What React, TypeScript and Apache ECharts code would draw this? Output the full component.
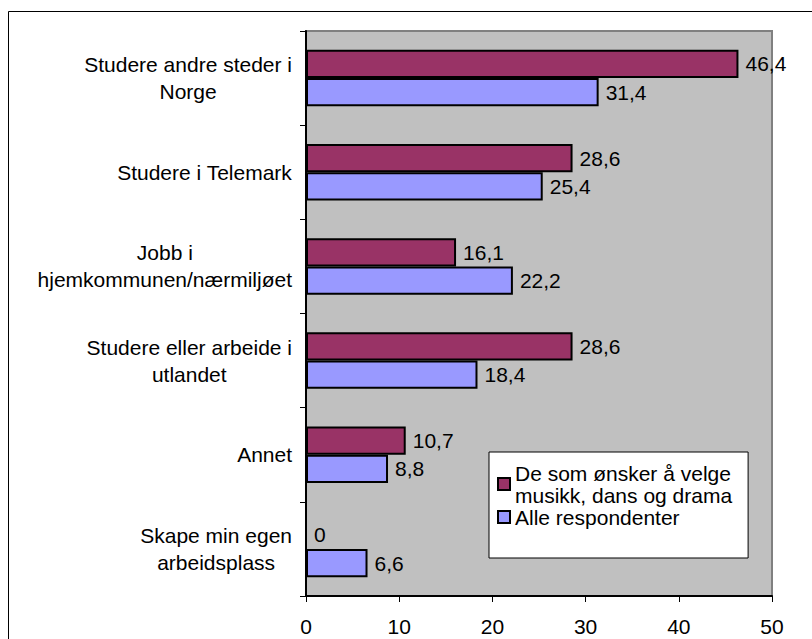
import React, { useEffect, useRef } from 'react';
import * as echarts from 'echarts';

const categories = [
  'Studere andre steder i\nNorge',
  'Studere i Telemark',
  'Jobb i\nhjemkommunen/nærmiljøet',
  'Studere eller arbeide i\nutlandet',
  'Annet',
  'Skape min egen\narbeidsplass',
];
const seriesNames = ['De som ønsker å velge musikk, dans og drama', 'Alle respondenter'];
const legendLabels = ['De som ønsker å velge\nmusikk, dans og drama', 'Alle respondenter'];
const musikkValues = [46.4, 28.6, 16.1, 28.6, 10.7, 0];
const alleValues = [31.4, 25.4, 22.2, 18.4, 8.8, 6.6];
const seriesColors = ['#993366', '#9999FF'];
const xMin = 0;
const xMax = 50;
const xInterval = 10;

const FONT = '"Liberation Sans", Arial, sans-serif';
const FS = 21;

export default function App() {
  const ref = useRef<HTMLDivElement>(null);
  useEffect(() => {
    document.body.style.margin = '0';
    if (!ref.current) return;
    const chart = echarts.init(ref.current, null, { renderer: 'svg' });
    const fmtVal = (p: any) => String(p.value).replace('.', ',');
    const barSeries = [musikkValues, alleValues].map((vals, i) => ({
      name: seriesNames[i],
      type: 'bar',
      data: vals,
      barGap: '0%',
      barCategoryGap: '40%',
      itemStyle: { color: seriesColors[i], borderColor: '#000', borderWidth: 2 },
      label: {
        show: true,
        position: 'right',
        distance: 7,
        color: '#000',
        fontSize: FS,
        fontFamily: FONT,
        formatter: fmtVal,
      },
    }));
    chart.setOption({
      animation: false,
      backgroundColor: '#fff',
      textStyle: { fontFamily: FONT },
      grid: {
        left: 306,
        top: 31,
        right: 40,
        bottom: 43,
        show: true,
        backgroundColor: '#C0C0C0',
        borderColor: '#808080',
        borderWidth: 2,
      },
      legend: {
        orient: 'vertical',
        left: 489,
        top: 452,
        padding: [10, 16, 30, 8],
        itemGap: 0,
        itemWidth: 12,
        itemHeight: 12,
        icon: 'rect',
        backgroundColor: '#fff',
        borderColor: '#000',
        borderWidth: 1,
        borderRadius: 0,
        formatter: (name: string) => legendLabels[seriesNames.indexOf(name)],
        textStyle: { fontSize: FS, lineHeight: 22, color: '#000', fontFamily: FONT },
        itemStyle: { borderColor: '#000', borderWidth: 2 },
        data: seriesNames,
      },
      xAxis: {
        type: 'value',
        min: xMin,
        max: xMax,
        interval: xInterval,
        splitLine: { show: false },
        axisLine: { show: true, lineStyle: { color: '#000', width: 2 } },
        axisTick: { show: true, length: 6, lineStyle: { color: '#000', width: 1 } },
        axisLabel: { color: '#000', fontSize: FS, fontFamily: FONT, margin: 20 },
      },
      yAxis: {
        type: 'category',
        data: categories,
        inverse: true,
        axisLine: { show: true, lineStyle: { color: '#000', width: 2 } },
        axisTick: { show: true, length: 6, lineStyle: { color: '#000', width: 1 } },
        axisLabel: {
          color: '#000',
          fontSize: FS,
          fontFamily: FONT,
          margin: 14,
          lineHeight: 27,
          formatter: (v: string) => v.split('\n').map((l) => `{c|${l}}`).join('\n'),
          rich: {
            c: { align: 'center', fontSize: FS, lineHeight: 27, color: '#000', fontFamily: FONT },
          },
        },
      },
      graphic: [
        {
          type: 'rect',
          shape: { x: 8.5, y: 11.5, width: 1200, height: 1200 },
          style: { fill: 'none', stroke: '#000', lineWidth: 1 },
          silent: true,
          z: 100,
        },
      ],
      series: barSeries,
    });
    return () => chart.dispose();
  }, []);
  return <div ref={ref} style={{ width: 812, height: 639 }} />;
}
